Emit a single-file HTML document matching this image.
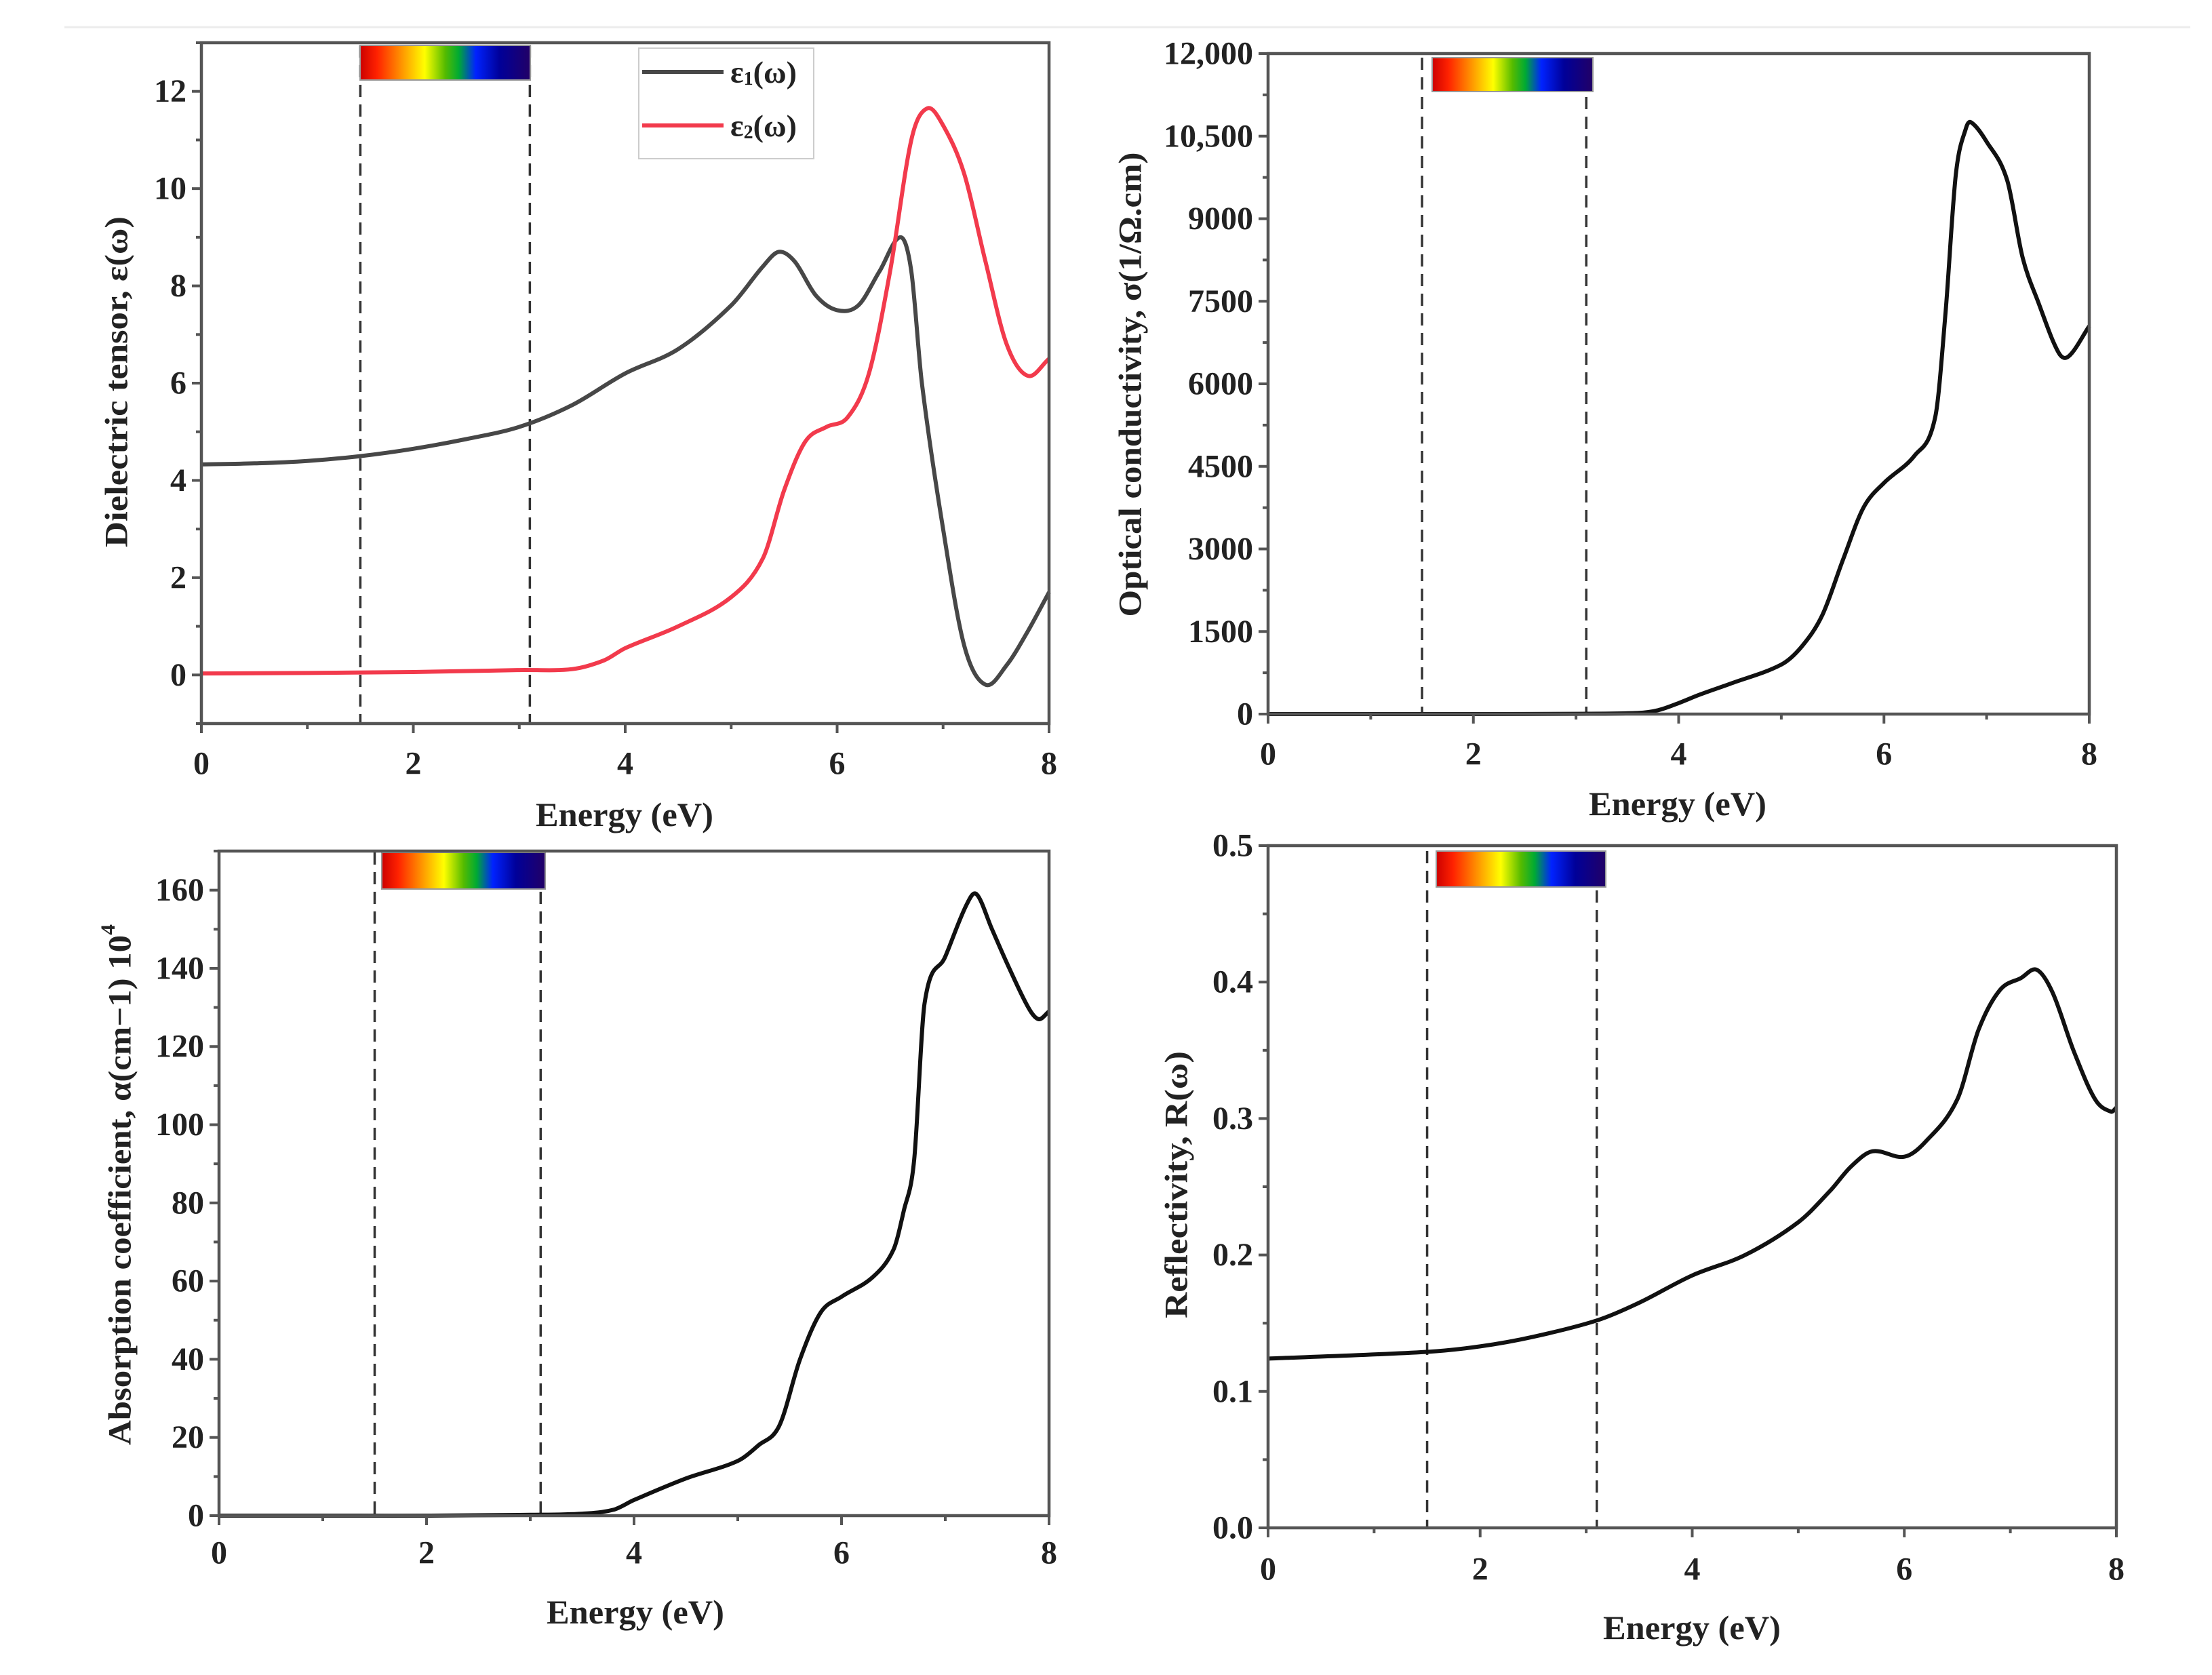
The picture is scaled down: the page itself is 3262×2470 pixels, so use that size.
<!DOCTYPE html>
<html><head><meta charset="utf-8"><style>
html,body{margin:0;padding:0;background:#fff;}
svg{display:block;}
text{font-family:"Liberation Serif",serif;font-weight:bold;fill:#222;}
</style></head><body>
<svg id="fig" width="3262" height="2470" viewBox="0 0 3262 2470" xmlns="http://www.w3.org/2000/svg">
<defs>
<linearGradient id="spec" x1="0" x2="1" y1="0" y2="0">
<stop offset="0" stop-color="#cc0000"/><stop offset="0.1" stop-color="#ff2200"/>
<stop offset="0.25" stop-color="#ff9900"/><stop offset="0.38" stop-color="#ffff00"/>
<stop offset="0.5" stop-color="#55bb00"/><stop offset="0.58" stop-color="#00aa33"/>
<stop offset="0.68" stop-color="#0022ff"/><stop offset="0.82" stop-color="#000099"/>
<stop offset="1" stop-color="#220066"/>
</linearGradient>
</defs>
<line x1="95" y1="40" x2="3230" y2="40" stroke="#ececec" stroke-width="3"/>
</svg>
<script>
// ---- data ----
const eps1X = [0,0.5,1,1.5,2,2.5,3,3.5,4,4.5,5,5.3,5.45,5.6,5.8,6.0,6.2,6.4,6.6,6.7,6.8,7.0,7.2,7.4,7.6,7.8,8.0];
const eps1Y = [4.33,4.35,4.4,4.5,4.65,4.85,5.1,5.55,6.2,6.7,7.6,8.4,8.7,8.5,7.8,7.5,7.6,8.3,9.0,8.3,6.0,3.0,0.6,-0.2,0.2,0.9,1.7];
const eps2X = [0,1,2,3,3.5,3.8,4,4.5,5,5.3,5.5,5.7,5.9,6.1,6.3,6.5,6.7,6.85,7.0,7.2,7.4,7.6,7.8,8.0];
const eps2Y = [0.03,0.04,0.06,0.1,0.12,0.3,0.55,1.0,1.6,2.4,3.8,4.8,5.1,5.3,6.2,8.3,11.0,11.65,11.3,10.3,8.5,6.8,6.15,6.5];
const sigX = [0,1,2,3,3.6,3.8,4.0,4.2,4.5,5.0,5.2,5.4,5.6,5.8,6.0,6.3,6.5,6.6,6.7,6.8,6.85,7.0,7.2,7.35,7.5,7.7,7.8,8.0];
const sigY = [0,0,0,5,20,70,200,350,550,900,1230,1800,2800,3750,4200,4700,5400,7300,9800,10650,10750,10400,9700,8300,7500,6570,6500,7050];
const absX = [0,1,2,3,3.5,3.8,4.0,4.5,5.0,5.2,5.4,5.6,5.8,6.0,6.3,6.5,6.6,6.7,6.8,7.0,7.2,7.3,7.45,7.6,7.8,7.9,8.0];
const absY = [0,0,0,0.2,0.5,1.5,4,9.5,14,18,23,40,52,56,61,68,78,91,131,143,156,159,150,141,130,127,129];
const refX = [0,1.5,2,2.5,3.1,3.5,4,4.5,5.0,5.3,5.5,5.7,6.0,6.2,6.5,6.7,6.9,7.1,7.25,7.4,7.6,7.8,7.95,8.0];
const refY = [0.124,0.129,0.133,0.14,0.152,0.165,0.185,0.2,0.224,0.247,0.265,0.276,0.272,0.283,0.314,0.365,0.394,0.403,0.409,0.392,0.349,0.314,0.305,0.308];
const xTicks = [0,2,4,6,8];
const visibleRange = [1.5,3.1];
const ticks1 = [0,2,4,6,8,10,12];
const ticks2 = [0,1500,3000,4500,6000,7500,9000,10500,12000];
const ticks2Labels = ["0","1500","3000","4500","6000","7500","9000","10,500","12,000"];
const ticks3 = [0,20,40,60,80,100,120,140,160];
const ticks4 = [0,0.1,0.2,0.3,0.4,0.5];
const ticks4Labels = ["0.0","0.1","0.2","0.3","0.4","0.5"];

const NS = "http://www.w3.org/2000/svg";
const svg = document.getElementById('fig');
function mk(tag, attrs, parent){
  const e = document.createElementNS(NS, tag);
  for (const k in attrs) e.setAttribute(k, attrs[k]);
  (parent||svg).appendChild(e); return e;
}
// Hermite spline through function points (pixel coords), tangents from neighbours
function smooth(pts){
  const n = pts.length;
  const m = pts.map((p,i)=>{
    const a = pts[Math.max(0,i-1)], b = pts[Math.min(n-1,i+1)];
    return (b[1]-a[1])/((b[0]-a[0])||1);
  });
  let d = "M"+pts[0][0].toFixed(1)+","+pts[0][1].toFixed(1);
  for (let i=0;i<n-1;i++){
    const p1=pts[i], p2=pts[i+1], dx=(p2[0]-p1[0])/3;
    d += " C"+(p1[0]+dx).toFixed(1)+","+(p1[1]+m[i]*dx).toFixed(1)+" "+(p2[0]-dx).toFixed(1)+","+(p2[1]-m[i+1]*dx).toFixed(1)+" "+p2[0].toFixed(1)+","+p2[1].toFixed(1);
  }
  return d;
}
function panel(cfg){
  const g = mk('g', {});
  
  
  const sx = v => cfg.L + (v-0)/8*(cfg.R-cfg.L);
  const sy = v => cfg.B - (v-cfg.ymin)/(cfg.ymax-cfg.ymin)*(cfg.B-cfg.T);
  visibleRange.forEach((v,i)=>{
    const l = mk('line',{x1:sx(v),x2:sx(v),y1:cfg.cbT,y2:cfg.B,stroke:'#333','stroke-width':3.5,'stroke-dasharray':'18 11'},g);
    
    
  });
  const cb = mk('rect',{x:cfg.cbL,y:cfg.cbT,width:cfg.cbR-cfg.cbL,height:cfg.cbB-cfg.cbT,fill:'url(#spec)',stroke:'#999','stroke-width':2},g);
  
  
  cfg.series.forEach(s=>{
    const pts = s.x.map((xv,i)=>[sx(xv), sy(s.y[i])]);
    const p = mk('path',{d:smooth(pts),fill:'none',stroke:s.color,'stroke-width':6,'stroke-linejoin':'round'},g);
    
    
  });
  const fr = mk('rect',{x:cfg.L,y:cfg.T,width:cfg.R-cfg.L,height:cfg.B-cfg.T,fill:'none',stroke:'#555','stroke-width':4.5},g);
  
  
  for (let v=0; v<=8; v+=1){
    const maj = v%2===0;
    mk('line',{x1:sx(v),x2:sx(v),y1:cfg.B,y2:cfg.B+(maj?14:8),stroke:'#555','stroke-width':4},g);
  }
  xTicks.forEach(v=>{
    const t = mk('text',{x:sx(v),y:cfg.xlY,'font-size':48,'text-anchor':'middle','dominant-baseline':'central'},g);
    t.textContent = v;
    
    
  });
  const step = cfg.yt[1]-cfg.yt[0];
  for (let v=cfg.ymin; v<=cfg.ymax+1e-9; v+=step/2){
    const rel = Math.round((v-cfg.yt[0])/(step/2));
    const maj = rel%2===0;
    mk('line',{x1:cfg.L,x2:cfg.L-(maj?14:8),y1:sy(v),y2:sy(v),stroke:'#555','stroke-width':4},g);
  }
  cfg.yt.forEach((v,i)=>{
    const t = mk('text',{x:cfg.L-22,y:sy(v),'font-size':48,'text-anchor':'end','dominant-baseline':'central'},g);
    t.textContent = cfg.ytl ? cfg.ytl[i] : v;
    
    
  });
  const xt = mk('text',{x:cfg.xtX,y:cfg.xtY,'font-size':50,'text-anchor':'middle','dominant-baseline':'central',textLength:262,lengthAdjust:'spacingAndGlyphs'},g);
  xt.textContent = 'Energy (eV)';
  
  
  const yt = mk('text',{x:0,y:0,'font-size':48,'text-anchor':'middle','dominant-baseline':'central',textLength:cfg.ytLen,lengthAdjust:'spacingAndGlyphs',transform:'translate('+cfg.ytX+','+cfg.ytY+') rotate(-90)'},g);
  yt.innerHTML = cfg.ytitle;
  
  
  return g;
}
panel({name:'dielectric-panel',L:297,R:1547,T:63,B:1067,ymin:-1,ymax:13,yt:ticks1,
  cbL:531,cbR:782,cbT:67,cbB:118,xlY:1126,xtX:921,xtY:1201,ytX:172,ytY:563,ytLen:488,
  ytitle:'Dielectric tensor, ε(ω)',
  series:[{name:'epsilon1-line',x:eps1X,y:eps1Y,color:'#474747'},{name:'epsilon2-line',x:eps2X,y:eps2Y,color:'#f23a4c'}]});
panel({name:'conductivity-panel',L:1870,R:3081,T:79,B:1053,ymin:0,ymax:12000,yt:ticks2,ytl:ticks2Labels,
  cbL:2112,cbR:2349,cbT:85,cbB:135,xlY:1112,xtX:2474,xtY:1185,ytX:1667,ytY:567,ytLen:685,
  ytitle:'Optical conductivity, σ(1/Ω.cm)',
  series:[{name:'conductivity-line',x:sigX,y:sigY,color:'#111'}]});
panel({name:'absorption-panel',L:323,R:1547,T:1255,B:2235,ymin:0,ymax:170,yt:ticks3,
  cbL:563,cbR:804,cbT:1257,cbB:1311,xlY:2290,xtX:937,xtY:2377,ytX:177,ytY:1747,ytLen:768,
  ytitle:'Absorption coefficient, α(cm−1) 10<tspan font-size="30" dy="-18">4</tspan>',
  series:[{name:'absorption-line',x:absX,y:absY,color:'#111'}]});
panel({name:'reflectivity-panel',L:1870,R:3121,T:1247,B:2253,ymin:0,ymax:0.5,yt:ticks4,ytl:ticks4Labels,
  cbL:2118,cbR:2368,cbT:1255,cbB:1308,xlY:2314,xtX:2495,xtY:2400,ytX:1735,ytY:1747,ytLen:394,
  ytitle:'Reflectivity, R(ω)',
  series:[{name:'reflectivity-line',x:refX,y:refY,color:'#111'}]});
const lg = mk('g',{});


mk('rect',{x:942,y:71,width:258,height:163,fill:'#fff',stroke:'#ccc','stroke-width':2},lg);
const l1 = mk('line',{x1:947,x2:1067,y1:106,y2:106,stroke:'#474747','stroke-width':6},lg);


const l2 = mk('line',{x1:947,x2:1067,y1:185,y2:185,stroke:'#f23a4c','stroke-width':6},lg);


const t1 = mk('text',{x:1077,y:106,'font-size':46,'dominant-baseline':'central'},lg);
t1.innerHTML = 'ε<tspan font-size="28" dy="10">1</tspan><tspan dy="-10">(ω)</tspan>';


const t2 = mk('text',{x:1077,y:185,'font-size':46,'dominant-baseline':'central'},lg);
t2.innerHTML = 'ε<tspan font-size="28" dy="10">2</tspan><tspan dy="-10">(ω)</tspan>';


</script>
</body></html>
